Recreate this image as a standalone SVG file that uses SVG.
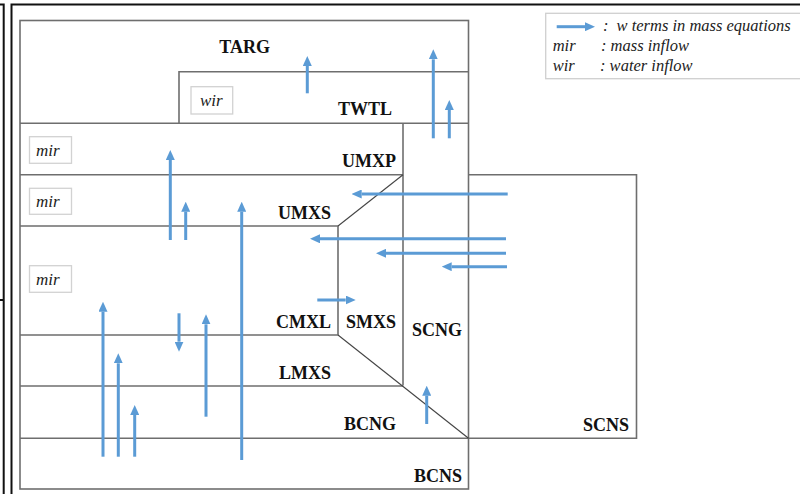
<svg xmlns="http://www.w3.org/2000/svg" width="800" height="494" viewBox="0 0 800 494">
  <style>
    .frame { fill: none; stroke: #111; stroke-width: 2; }
    .wall { fill: none; stroke: #6e6e6e; stroke-width: 1.6; }
    .slope { fill: none; stroke: #444; stroke-width: 1.1; }
    .lbl { font-family: "Liberation Serif", "Times New Roman", serif; font-weight: bold; font-size: 18px; fill: #111; text-anchor: end; }
    .tag { fill: #fff; stroke: #d2d2d2; stroke-width: 1.3; }
    .tagtxt { font-family: "Liberation Serif", "Times New Roman", serif; font-style: italic; font-size: 17px; fill: #222; }
    .legtxt { font-family: "Liberation Serif", "Times New Roman", serif; font-style: italic; font-size: 16.5px; fill: #222; }
    .flow { stroke: #5B9BD5; stroke-width: 3; fill: none; marker-end: url(#head); }
  </style>
  <defs>
    <marker id="head" markerUnits="userSpaceOnUse" markerWidth="10" markerHeight="9" refX="0" refY="4.5" orient="auto">
      <path d="M0,0 L10,4.5 L0,9 z" fill="#5B9BD5"/>
    </marker>
  </defs>

  <rect width="800" height="494" fill="#fff"/>

  <!-- outer page frames -->
  <g id="page-frames">
    <path class="frame" d="M0,4.5 H3.7 V494 M0,300 H3.7"/>
    <path class="frame" d="M11.5,494 V4.5 H802"/>
  </g>

  <!-- compartment boundaries -->
  <g id="walls">
    <rect class="wall" x="20" y="20.5" width="448.5" height="468.5"/>
    <path class="wall" d="M179,123.3 V71.7 H468.5"/>
    <path class="wall" d="M20,123.3 H468.5"/>
    <path class="wall" d="M20,174.7 H403"/>
    <path class="wall" d="M403,123.3 V385.5"/>
    <path class="wall" d="M20,226 H338 V335 H20"/>
    <path class="wall" d="M20,386 H403"/>
    <path class="wall" d="M20,438.3 H636.5 V174.7 H468.5"/>
    <path class="slope" d="M403,174.7 L338,226"/>
    <path class="slope" d="M338,335 L468.5,438.3"/>
  </g>

  <g id="TARG"><text class="lbl" x="270" y="53">TARG</text></g>
  <g id="TWTL">
    <text class="lbl" x="392" y="115">TWTL</text>
    <rect class="tag" x="191" y="86.7" width="41.7" height="27.3"/>
    <text class="tagtxt" x="200" y="105.5">wir</text>
  </g>
  <g id="UMXP">
    <text class="lbl" x="396" y="167">UMXP</text>
    <rect class="tag" x="29.5" y="136.7" width="42" height="26.6"/>
    <text class="tagtxt" x="36" y="156">mir</text>
  </g>
  <g id="UMXS">
    <text class="lbl" x="331" y="219">UMXS</text>
    <rect class="tag" x="29.5" y="188.3" width="42" height="26"/>
    <text class="tagtxt" x="36" y="207.3">mir</text>
  </g>
  <g id="CMXL">
    <text class="lbl" x="331" y="328">CMXL</text>
    <rect class="tag" x="29.5" y="265.7" width="42" height="26.6"/>
    <text class="tagtxt" x="36" y="285">mir</text>
  </g>
  <g id="SMXS"><text class="lbl" x="396" y="328">SMXS</text></g>
  <g id="LMXS"><text class="lbl" x="331" y="379">LMXS</text></g>
  <g id="BCNG"><text class="lbl" x="396" y="430">BCNG</text></g>
  <g id="SCNG"><text class="lbl" x="462" y="336">SCNG</text></g>
  <g id="SCNS"><text class="lbl" x="629" y="431">SCNS</text></g>
  <g id="BCNS"><text class="lbl" x="462" y="482">BCNS</text></g>

  <!-- w-term flows -->
  <g id="flows">
    <line class="flow" x1="307.3" y1="93.3" x2="307.3" y2="66"/>
    <line class="flow" x1="433.3" y1="138.3" x2="433.3" y2="59.3"/>
    <line class="flow" x1="449.3" y1="138.3" x2="449.3" y2="110"/>
    <line class="flow" x1="170.3" y1="240" x2="170.3" y2="160"/>
    <line class="flow" x1="185.7" y1="240" x2="185.7" y2="211.7"/>
    <line class="flow" x1="241.7" y1="460" x2="241.7" y2="211.7"/>
    <line class="flow" x1="507.7" y1="194" x2="361.7" y2="194"/>
    <line class="flow" x1="506" y1="238.8" x2="320" y2="238.8"/>
    <line class="flow" x1="506" y1="253.3" x2="386" y2="253.3"/>
    <line class="flow" x1="507" y1="266.7" x2="451.7" y2="266.7"/>
    <line class="flow" x1="317.3" y1="300" x2="345.7" y2="300"/>
    <line class="flow" x1="179" y1="313.3" x2="179" y2="341.7"/>
    <line class="flow" x1="206" y1="416.7" x2="206" y2="324.3"/>
    <line class="flow" x1="103" y1="456.7" x2="103" y2="311.7"/>
    <line class="flow" x1="118.3" y1="456.7" x2="118.3" y2="363.3"/>
    <line class="flow" x1="134.7" y1="456.7" x2="134.7" y2="415"/>
    <line class="flow" x1="426.7" y1="424" x2="426.7" y2="395.7"/>
  </g>

  <!-- legend -->
  <g id="legend">
    <rect x="545.7" y="13.3" width="260" height="65.4" fill="#fff" stroke="#cfcfcf" stroke-width="1.3"/>
    <line class="flow" x1="556.7" y1="26.7" x2="585" y2="26.7"/>
    <text class="legtxt" x="603" y="31">:</text>
    <text class="legtxt" x="616.5" y="31">w terms in mass equations</text>
    <text class="legtxt" x="552.7" y="51">mir</text>
    <text class="legtxt" x="601" y="51">: mass inflow</text>
    <text class="legtxt" x="552.7" y="71">wir</text>
    <text class="legtxt" x="600" y="71">: water inflow</text>
  </g>
</svg>
